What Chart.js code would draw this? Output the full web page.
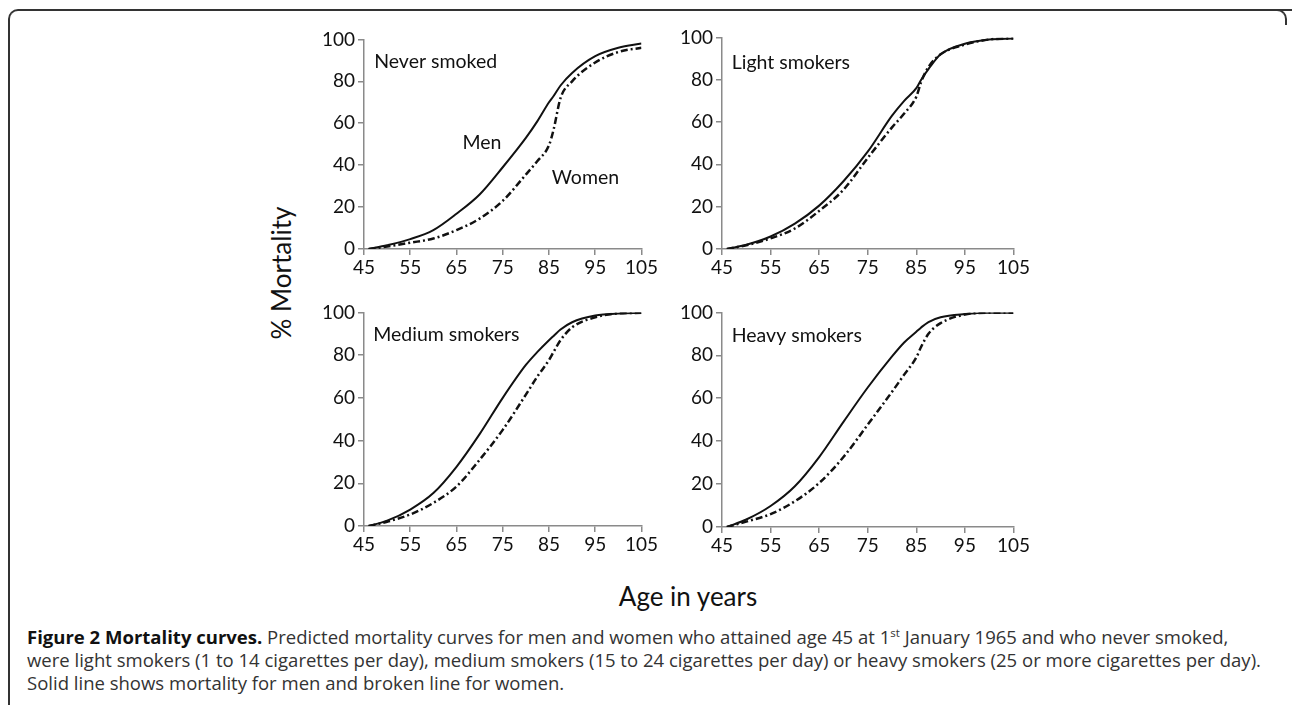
<!DOCTYPE html>
<html>
<head>
<meta charset="utf-8">
<script src="https://cdn.jsdelivr.net/npm/chart.js@4"></script>
<style>
  body { margin: 0; background: #fff; }
  #page { position: relative; width: 1292px; height: 705px; overflow: hidden; font-family: Lato, sans-serif; }
  #frame { position: absolute; left: 8px; top: 9px; width: 1300px; height: 720px; border-top: 2px solid #333; border-left: 2px solid #333; border-top-left-radius: 10px; }
  #corner { position: absolute; left: 1270px; top: 9px; width: 15px; height: 14px; border-top: 2px solid #333; border-right: 2px solid #333; border-top-right-radius: 10px; }
  canvas { position: absolute; }
  .ytitle { position: absolute; left: 281px; top: 273px; transform: translate(-50%, -50%) rotate(-90deg); font-size: 26px; color: #111; white-space: nowrap; }
  .xtitle { position: absolute; left: 688px; top: 596px; transform: translate(-50%, -50%); font-size: 26px; color: #111; white-space: nowrap; }
  #caption { position: absolute; left: 27px; top: 625px; font-family: "Open Sans", sans-serif; font-size: 16px; line-height: 23px; color: #333; white-space: nowrap; }
  #caption span { display: block; width: max-content; }
  #caption b { color: #111; }
  sup { font-size: 0.62em; line-height: 0; }
</style>
</head>
<body>
<div id="page">
  <div id="frame"></div>
  <div id="corner"></div>
  <canvas id="c1" width="345" height="258" style="left:314px; top:25px"></canvas>
  <canvas id="c2" width="359" height="260" style="left:672px; top:23px"></canvas>
  <canvas id="c3" width="345" height="262" style="left:314px; top:298px"></canvas>
  <canvas id="c4" width="359" height="263" style="left:672px; top:298px"></canvas>
  <div class="ytitle">% Mortality</div>
  <div class="xtitle">Age in years</div>
  <div id="caption">
    <span><b>Figure 2 Mortality curves.</b> Predicted mortality curves for men and women who attained age 45 at 1<sup>st</sup> January 1965 and who never smoked,</span>
    <span id="capLine2">were light smokers (1 to 14 cigarettes per day), medium smokers (15 to 24 cigarettes per day) or heavy smokers (25 or more cigarettes per day).</span>
    <span>Solid line shows mortality for men and broken line for women.</span>
  </div>
</div>
<script>
// ages (years) and % mortality
const ages = [46, 50, 55, 60, 65, 70, 75, 80, 82.5, 85, 86, 87.5, 90, 95, 100, 105];

const neverMen     = [0, 1.8, 4.7, 9, 16.8, 26, 39, 53, 61, 70, 73, 78, 84, 92, 96, 98];
const neverWomen   = [0, 1.2, 3, 5, 9, 14.5, 23, 35.5, 42, 49.5, 57, 72, 80, 89, 94, 96];
const lightMen     = [0, 2, 5.9, 12, 20.5, 32, 46, 63, 70, 76, 80, 85, 92, 97, 99, 99.5];
const lightWomen   = [0, 1.8, 5, 9.7, 18, 28, 43, 57.5, 64, 72, 79, 86, 92, 96.6, 99, 99.5];
const mediumMen    = [0, 2.5, 7.7, 15.4, 27.7, 43, 60, 75.4, 81.5, 87, 89, 92, 95.4, 98.5, 99.5, 99.8];
const mediumWomen  = [0, 2, 5.4, 10.8, 18.5, 31, 45, 61.5, 70, 77.7, 81.5, 87, 93, 97.7, 99.5, 99.8];
const heavyMen     = [0, 3.5, 9.8, 19, 32.6, 49, 65, 79.5, 86, 91, 93, 95.5, 97.7, 99.2, 99.8, 99.8];
const heavyWomen   = [0, 2.5, 6, 12, 20.5, 32.6, 47.7, 63, 71, 79, 84, 90, 95, 99, 99.8, 99.8];

const xTicks = [45, 55, 65, 75, 85, 95, 105];
const yTicks = [0, 20, 40, 60, 80, 100];

const toPoints = vals => vals.map((v, i) => ({ x: ages[i], y: v }));

// draws the panel labels at data coordinates
const panelText = {
    id: 'panelText',
    afterDatasetsDraw(chart, args, opts) {
        const ctx = chart.ctx;
        ctx.save();
        ctx.font = '19.5px Lato, sans-serif';
        ctx.fillStyle = '#111';
        ctx.textBaseline = 'middle';
        (opts.items || []).forEach(it => {
            ctx.textAlign = it.align || 'left';
            ctx.fillText(it.text, chart.scales.x.getPixelForValue(it.x), chart.scales.y.getPixelForValue(it.y));
        });
        ctx.restore();
    }
};

function makeChart(id, men, women, items) {
    const axisColor = '#8a8a8a';
    return new Chart(document.getElementById(id), {
        type: 'line',
        data: {
            datasets: [{
                label: 'Men',
                data: toPoints(men),
                borderColor: '#111',
                borderWidth: 2,
                pointRadius: 0,
                cubicInterpolationMode: 'monotone'
            }, {
                label: 'Women',
                data: toPoints(women),
                borderColor: '#111',
                borderWidth: 2.5,
                borderDash: [7, 3, 2, 3],
                pointRadius: 0,
                cubicInterpolationMode: 'monotone'
            }]
        },
        options: {
            responsive: false,
            animation: false,
            devicePixelRatio: 1,
            layout: { padding: { top: 10, right: 16, left: 0, bottom: 0 } },
            plugins: {
                legend: { display: false },
                tooltip: { enabled: false },
                panelText: { items: items }
            },
            scales: {
                x: {
                    type: 'linear',
                    min: 45,
                    max: 105,
                    afterBuildTicks: s => { s.ticks = xTicks.map(v => ({ value: v })); },
                    afterFit: s => { s.height = 34; },
                    grid: { drawOnChartArea: false, tickLength: 6, color: axisColor, lineWidth: 1.5 },
                    border: { color: axisColor, width: 1.5 },
                    ticks: { color: '#111', font: { family: 'Lato', size: 19 }, padding: 1, maxRotation: 0 }
                },
                y: {
                    min: 0,
                    max: 100,
                    afterBuildTicks: s => { s.ticks = yTicks.map(v => ({ value: v })); },
                    afterFit: s => { s.width = 50; },
                    grid: { drawOnChartArea: false, tickLength: 6, color: axisColor, lineWidth: 1.5 },
                    border: { color: axisColor, width: 1.5 },
                    ticks: { color: '#111', font: { family: 'Lato', size: 19 }, padding: 3 }
                }
            }
        },
        plugins: [panelText]
    });
}

makeChart('c1', neverMen, neverWomen, [
    { text: 'Never smoked', x: 47.2, y: 89.5 },
    { text: 'Men', x: 70.5, y: 50.5, align: 'center' },
    { text: 'Women', x: 85.6, y: 34 }
]);
makeChart('c2', lightMen, lightWomen, [{ text: 'Light smokers', x: 47, y: 88 }]);
makeChart('c3', mediumMen, mediumWomen, [{ text: 'Medium smokers', x: 47, y: 89.5 }]);
makeChart('c4', heavyMen, heavyWomen, [{ text: 'Heavy smokers', x: 47, y: 89 }]);

// size the caption so its longest line spans the same width as in the figure
function fitCaption() {
    const cap = document.getElementById('caption');
    const line = document.getElementById('capLine2');
    cap.style.fontSize = '16px';
    const w = line.getBoundingClientRect().width;
    if (w > 0) cap.style.fontSize = (16 * 1234 / w).toFixed(2) + 'px';
}
fitCaption();
document.fonts.ready.then(fitCaption);
</script>
</body>
</html>
